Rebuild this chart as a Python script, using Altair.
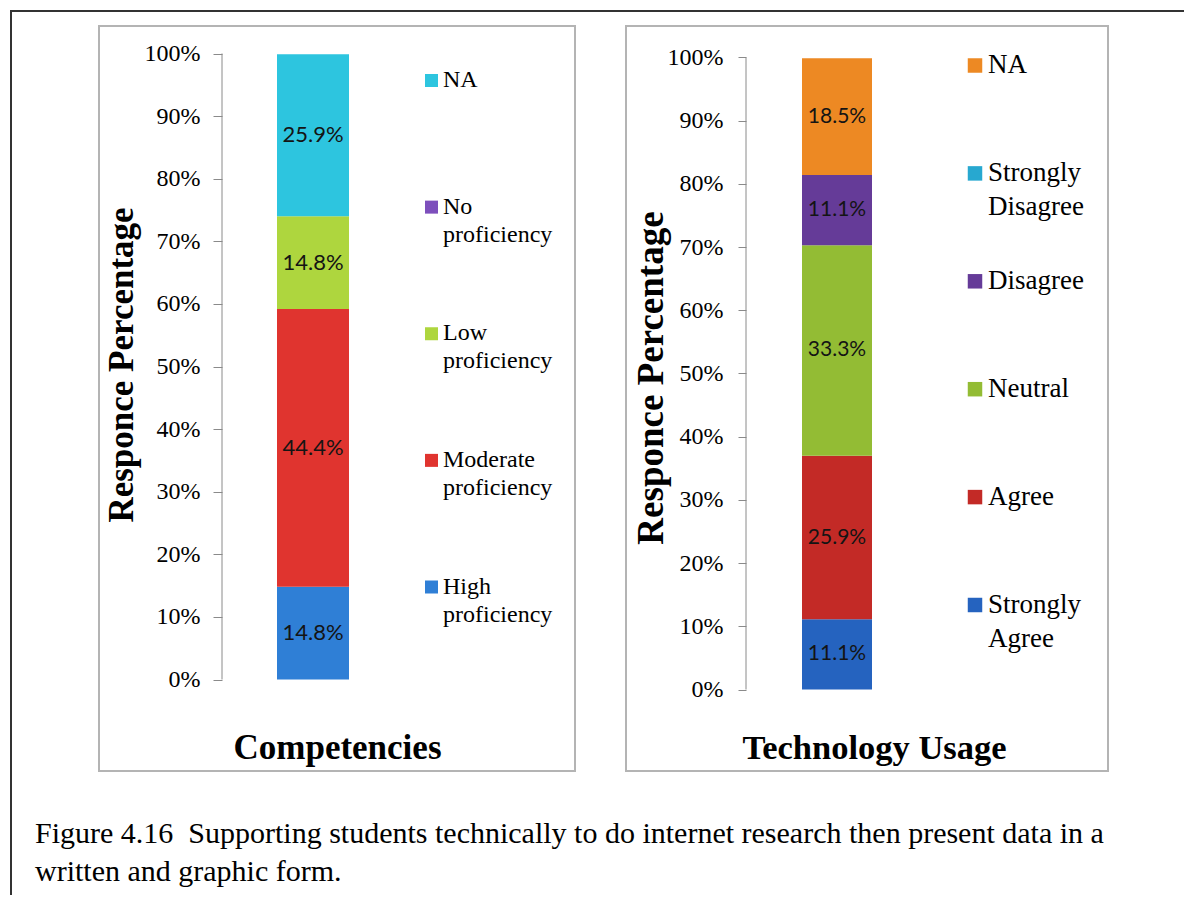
import altair as alt
import pandas as pd

# ---------------- data ----------------
comp_cats = ["High proficiency", "Moderate proficiency", "Low proficiency", "No proficiency", "NA"]
comp_vals = [14.8, 44.4, 14.8, 0.0, 25.9]
comp_colors = ["#2F7FD6", "#E0342F", "#AED63E", "#7D4FBC", "#2DC5DF"]
comp_legend_cats = ["NA", "No proficiency", "Low proficiency", "Moderate proficiency", "High proficiency"]
comp_legend_text = ["NA", "No\nproficiency", "Low\nproficiency", "Moderate\nproficiency", "High\nproficiency"]

tech_cats = ["Strongly Agree", "Agree", "Neutral", "Disagree", "Strongly Disagree", "NA"]
tech_vals = [11.1, 25.9, 33.3, 11.1, 0.0, 18.5]
tech_colors = ["#2563BF", "#C32A26", "#93BC34", "#653B98", "#27A8D0", "#ED8923"]
tech_legend_cats = ["NA", "Strongly Disagree", "Disagree", "Neutral", "Agree", "Strongly Agree"]
tech_legend_text = ["NA", "Strongly\nDisagree", "Disagree", "Neutral", "Agree", "Strongly\nAgree"]

tick_values = [i / 10 for i in range(11)]

caption = ("Figure 4.16\u00a0 Supporting students technically to do internet research then present data in a\n"
           "written and graphic form.")

SERIF = "Liberation Serif"
H = 745


def panel(cats, vals, colors, leg_cats, leg_text, title, W, ydom, axis_x, tick, lpad,
          bar_x, bar_x2, lbl_fs, sq_x, sq_size, txt_x, leg_range, leg_dy, leg_fs, leg_lh,
          yt_x, yt_y, yt_fs, t_x, t_y, t_fs, extra=None):
    df = pd.DataFrame({"cat": cats, "val": [v / 100 for v in vals], "order": list(range(len(cats)))})
    color = alt.Color("cat:N", scale=alt.Scale(domain=cats, range=colors), legend=None)
    yscale = alt.Scale(domain=ydom, nice=False, zero=False)

    base = alt.Chart(df).transform_stack(
        stack="val", groupby=[], as_=["y0", "y1"],
        sort=[alt.SortField("order", order="ascending")]
    ).transform_calculate(mid="(datum.y0 + datum.y1) / 2")

    bars = base.mark_bar().encode(
        x=alt.value(bar_x), x2=alt.value(bar_x2),
        y=alt.Y("y0:Q", scale=yscale, axis=alt.Axis(
            values=tick_values, format=".0%", offset=-axis_x, domain=False, grid=False,
            tickSize=tick, tickColor="#8a8a8a", tickWidth=1,
            labelFont=SERIF, labelFontSize=24, labelColor="#000000",
            labelPadding=lpad, title=None)),
        y2="y1:Q",
        color=color,
    )
    labels = base.transform_filter("datum.val > 0").mark_text(
        font="Lato", fontSize=lbl_fs, color="#141414"
    ).encode(
        x=alt.value((bar_x + bar_x2) / 2),
        y=alt.Y("mid:Q", scale=yscale),
        text=alt.Text("val:Q", format=".1%"),
    )
    axisline = alt.Chart(pd.DataFrame({"lo": [0.0], "hi": [1.0]})).mark_rule(
        color="#8a8a8a", strokeWidth=1
    ).encode(x=alt.value(axis_x), y=alt.Y("lo:Q", scale=yscale), y2="hi:Q")

    inner = alt.layer(bars, labels, axisline)

    ldf = pd.DataFrame({"cat": leg_cats, "label": leg_text, "idx": list(range(len(leg_cats)))})
    lscale = alt.Scale(type="point", domain=list(range(len(leg_cats))), range=leg_range, padding=0)
    sq = alt.Chart(ldf).mark_point(shape="square", filled=True, size=sq_size, opacity=1).encode(
        x=alt.value(sq_x), y=alt.Y("idx:O", scale=lscale, axis=None), color=color)
    lt = alt.Chart(ldf).mark_text(
        align="left", baseline="alphabetic", dy=leg_dy, font=SERIF, fontSize=leg_fs,
        lineBreak="\n", lineHeight=leg_lh, color="#000000"
    ).encode(x=alt.value(txt_x), y=alt.Y("idx:O", scale=lscale, axis=None), text="label:N")
    legend = alt.layer(sq, lt)

    one = pd.DataFrame({"a": [0]})
    ytitle = alt.Chart(one).mark_text(
        angle=270, align="center", baseline="alphabetic", font=SERIF, fontSize=yt_fs,
        fontWeight="bold", color="#000000"
    ).encode(x=alt.value(yt_x), y=alt.value(yt_y), text=alt.value("Responce Percentage"))
    ttl = alt.Chart(one).mark_text(
        align="center", baseline="alphabetic", font=SERIF, fontSize=t_fs,
        fontWeight="bold", color="#000000"
    ).encode(x=alt.value(t_x), y=alt.value(t_y), text=alt.value(title))

    layers = [inner, legend, ytitle, ttl]
    if extra:
        layers += extra
    return alt.layer(*layers).resolve_scale(y="independent").properties(width=W, height=H)


one = pd.DataFrame({"a": [0]})
border_v = alt.Chart(one).mark_rule(color="#333333", strokeWidth=2).encode(
    x=alt.value(-88), y=alt.value(-16), y2=alt.value(869))
border_h = alt.Chart(one).mark_rule(color="#333333", strokeWidth=2).encode(
    x=alt.value(-89), x2=alt.value(1085), y=alt.value(-15))
cap = alt.Chart(one).mark_text(
    align="left", baseline="alphabetic", font=SERIF, fontSize=30, lineBreak="\n",
    lineHeight=38, color="#000000"
).encode(x=alt.value(-64), y=alt.value(817), text=alt.value(caption))

# left panel: page x 99..575, y 27.5..772.5 ; 0% at 681, 100% at 55
left = panel(
    comp_cats, comp_vals, comp_colors, comp_legend_cats, comp_legend_text, "Competencies",
    W=476, ydom=[(681 - 772.5) / 626, (681 - 27.5) / 626], axis_x=123, tick=9, lpad=13,
    bar_x=178, bar_x2=250, lbl_fs=22, sq_x=332.5, sq_size=169, txt_x=344,
    leg_range=[54.5, 561], leg_dy=6.5, leg_fs=24, leg_lh=28,
    yt_x=34, yt_y=339, yt_fs=35, t_x=238.5, t_y=733, t_fs=35,
    extra=[border_v, border_h, cap],
)

# right panel: page x 626..1108 ; 0% at 691, 100% at 59
right = panel(
    tech_cats, tech_vals, tech_colors, tech_legend_cats, tech_legend_text, "Technology Usage",
    W=482, ydom=[(691 - 772.5) / 632, (691 - 27.5) / 632], axis_x=120, tick=8, lpad=15,
    bar_x=176, bar_x2=246, lbl_fs=21, sq_x=349, sq_size=210, txt_x=362,
    leg_range=[39.5, 579], leg_dy=7.5, leg_fs=27, leg_lh=34,
    yt_x=37, yt_y=352, yt_fs=37, t_x=248.5, t_y=733, t_fs=34.5,
)

chart = alt.hconcat(left, right, spacing=51, bounds="flush").resolve_scale(
    y="independent", color="independent"
).configure_view(stroke="#B4B4B4", strokeWidth=2).properties(padding=0)

chart.save("out.html", embed_options={"renderer": "svg", "actions": False})
